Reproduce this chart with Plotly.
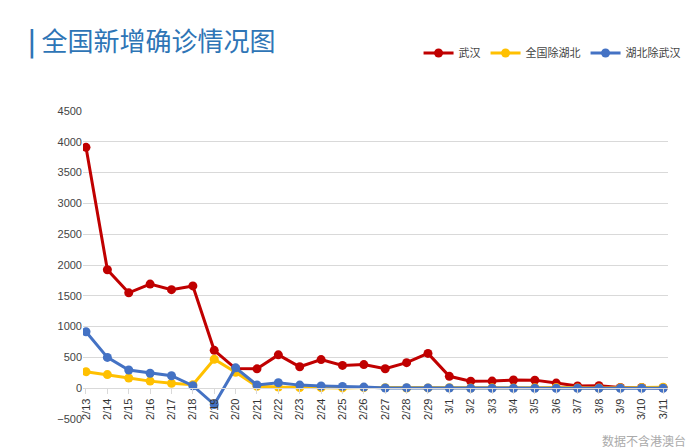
import plotly.graph_objects as go

dates = ["2/13","2/14","2/15","2/16","2/17","2/18","2/19","2/20","2/21","2/22","2/23","2/24","2/25","2/26","2/27","2/28","2/29",
         "3/1","3/2","3/3","3/4","3/5","3/6","3/7","3/8","3/9","3/10","3/11"]
wuhan = [3910,1923,1548,1690,1600,1660,615,319,314,541,348,464,370,383,315,415,565,
         193,114,115,134,131,83,36,41,13,13,8]
other = [267,221,166,115,79,56,470,258,31,18,11,9,5,10,9,4,5,
         7,4,6,5,8,12,5,4,6,10,16]
hubei_ex = [916,500,295,243,202,40,-265,330,52,89,50,35,29,18,3,8,5,
            3,0,0,0,0,0,0,0,0,0,0]
yticks = [-500,0,500,1000,1500,2000,2500,3000,3500,4000,4500]

fig = go.Figure()
for name, vals, col in [("武汉", wuhan, "#C00000"), ("全国除湖北", other, "#FFC000"), ("湖北除武汉", hubei_ex, "#4472C4")]:
    fig.add_trace(go.Scatter(x=dates, y=vals, name=name, mode="lines+markers",
                             line=dict(color=col, width=3), marker=dict(color=col, size=9)))

W, H = 585, 308
fig.update_layout(
    width=700, height=448, plot_bgcolor="white", paper_bgcolor="white",
    margin=dict(l=75, r=40, t=103, b=37, autoexpand=False),
    font=dict(family="Noto Sans CJK SC, Liberation Sans", color="#444", size=11),
    legend=dict(orientation="h", x=1.03, xanchor="right", y=1 + 58/H, yanchor="middle", font=dict(size=11)),
    showlegend=True,
)
fig.update_yaxes(range=[-500, 4500], tickvals=yticks, showgrid=True, gridcolor="#D9D9D9", automargin=False,
                 zeroline=False, showline=False, tickfont=dict(size=11, family="Liberation Sans"), domain=[0, 1])
fig.update_xaxes(type="category", range=[-0.14, 27.23], anchor="free", position=0.1, tickangle=-90, showline=True,
                 automargin=False, linecolor="#D9D9D9", showgrid=False, ticks="outside", tickcolor="#D9D9D9",
                 tickfont=dict(size=11, family="Liberation Sans", color="#333"))
fig.add_annotation(xref="paper", yref="paper", x=(18 - 75) / W, y=1 + 71/H, xanchor="left", yanchor="middle",
                   text="<b>|</b> 全国新增确诊情况图", showarrow=False,
                   font=dict(size=26, color="#2E75B6", family="Noto Sans CJK SC"))
fig.add_annotation(xref="paper", yref="paper", x=(680 - 75) / W, y=-(432 - 411) / H, xanchor="right", yanchor="middle",
                   text="数据不含港澳台", showarrow=False, font=dict(size=12, color="#AAAAAA", family="Noto Sans CJK SC"))
fig.write_html("out.html")
